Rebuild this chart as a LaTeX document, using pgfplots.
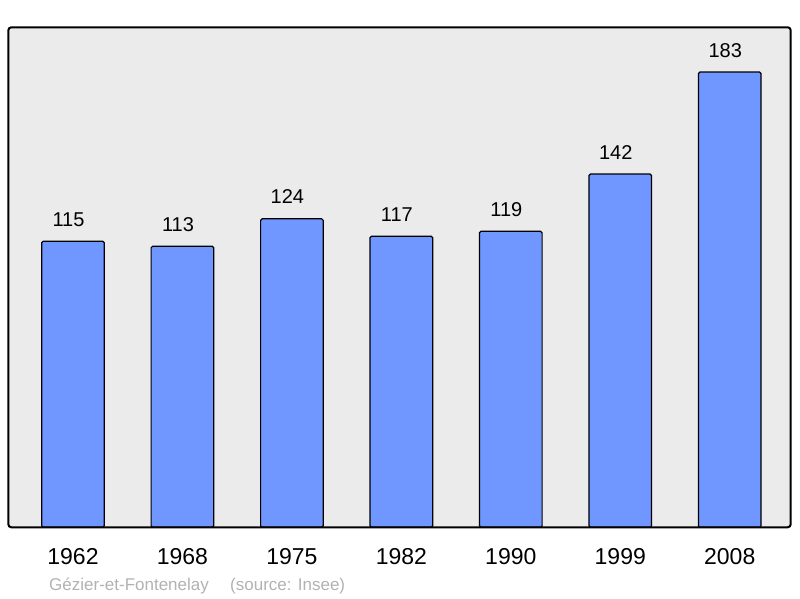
\documentclass[border=0pt]{standalone}
\usepackage{fontspec}
\setmainfont{Liberation Sans}
\usepackage{pgfplots}
\pgfplotsset{compat=1.18}
\definecolor{barblue}{RGB}{112,150,255}
\definecolor{bggray}{RGB}{235,235,235}
\definecolor{notegray}{RGB}{178,178,178}
\begin{document}
\begin{tikzpicture}[x=1pt,y=1pt]
\path[use as bounding box] (0,0) rectangle (800,598);
\begin{axis}[name=ax, at={(8.3pt,70.7pt)}, anchor=south west,
  scale only axis, width=782.4pt, height=500pt,
  xmin=-0.591, xmax=6.557, ymin=0, ymax=201,
  ybar, bar width=62.6pt,
  axis line style={draw=none}, major tick length=0pt,
  ytick=\empty, xtick={0,...,6},
  xticklabels={1962,1968,1975,1982,1990,1999,2008},
  xticklabel style={anchor=base, yshift=-37.5pt, font=\fontsize{23}{26}\selectfont},
  /pgf/number format/assume math mode=true,
  nodes near coords,
  nodes near coords style={anchor=base, xshift=-4.5pt, yshift=15pt, font=\fontsize{20}{24}\selectfont, text=black},
  axis background/.style={fill=bggray, rounded corners=3pt},
  clip=false]
\addplot[fill=barblue, draw=black, line width=1.2pt, rounded corners=1.5pt] coordinates {(0,115) (1,113) (2,124) (3,117) (4,119) (5,142) (6,183)};
\end{axis}
\draw[line width=2pt, rounded corners=3pt] (ax.south west) rectangle (ax.north east);
\node[anchor=base west, text=notegray, font=\fontsize{17}{20}\selectfont, inner sep=0pt] at (49,8) {Gézier-et-Fontenelay};
\node[anchor=base west, text=notegray, font=\fontsize{17}{20}\selectfont, inner sep=0pt] at (230,8) {(source: Insee)};
\end{tikzpicture}
\end{document}
